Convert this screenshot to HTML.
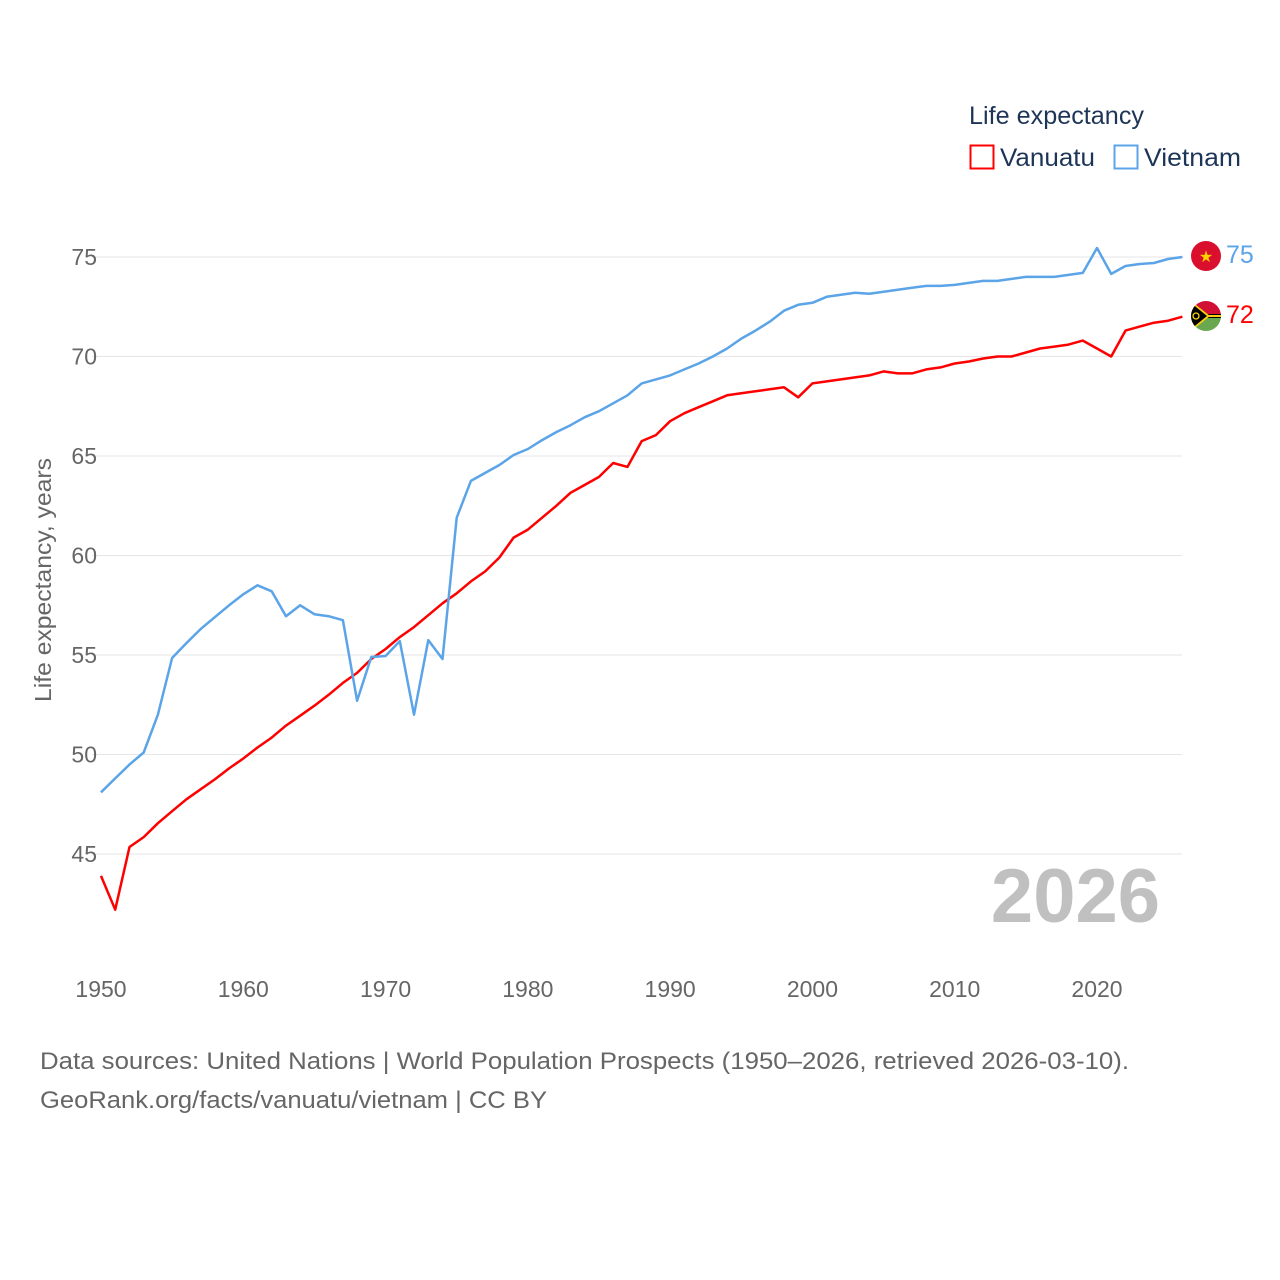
<!DOCTYPE html>
<html><head><meta charset="utf-8"><style>
html,body{margin:0;padding:0;background:#fff;}
svg{display:block;font-family:"Liberation Sans",sans-serif;}
</style></head><body>
<svg id="chart" width="1280" height="1280" viewBox="0 0 1280 1280">
<g id="grid"></g>
<g id="yticks"></g>
<g id="xticks"></g>
<text transform="translate(51,580) rotate(-90)" text-anchor="middle" font-size="23" fill="#666" textLength="244" lengthAdjust="spacingAndGlyphs">Life expectancy, years</text>
<text x="1160" y="922" text-anchor="end" font-size="76" font-weight="bold" fill="#c0c0c0">2026</text>
<g id="series"></g>
<g>
<text x="969" y="124" font-size="25" fill="#1d3557" textLength="175" lengthAdjust="spacingAndGlyphs">Life expectancy</text>
<g><rect x="970.5" y="145.5" width="23" height="23" fill="none" stroke="#ff0000" stroke-width="2"/><text x="1000" y="166" font-size="25" fill="#1d3557" textLength="95" lengthAdjust="spacingAndGlyphs">Vanuatu</text></g>
<g><rect x="1114.5" y="145.5" width="23" height="23" fill="none" stroke="#5ba4e8" stroke-width="2"/><text x="1144" y="166" font-size="25" fill="#1d3557" textLength="97" lengthAdjust="spacingAndGlyphs">Vietnam</text></g>
</g>
<g>
<circle cx="1206" cy="256" r="15" fill="#da0f2e"/>
<text x="1206" y="262" text-anchor="middle" font-size="16" fill="#ffd000">★</text>
</g>
<g>
<clipPath id="c2"><circle cx="1206" cy="316" r="15"/></clipPath>
<g clip-path="url(#c2)">
<rect x="1190" y="300" width="32" height="16" fill="#d21034"/>
<rect x="1190" y="316" width="32" height="16" fill="#6aa84f"/>
<rect x="1190" y="314" width="32" height="4" fill="#000"/>
<rect x="1190" y="315" width="32" height="2" fill="#fdce12"/>
<polygon points="1190,300 1210,316 1190,332" fill="#fdce12"/>
<polygon points="1190,302 1207,316 1190,330" fill="#000"/>
<circle cx="1196" cy="316" r="3" fill="none" stroke="#fdce12" stroke-width="1.3"/>
</g>
</g>
<text x="1226" y="263" font-size="25" fill="#5ba4e8">75</text>
<text x="1226" y="323" font-size="25" fill="#ff0000">72</text>
<text x="40" y="1069" font-size="24" fill="#666" textLength="1089" lengthAdjust="spacingAndGlyphs">Data sources: United Nations | World Population Prospects (1950–2026, retrieved 2026-03-10).</text>
<text x="40" y="1108" font-size="24" fill="#666" textLength="507" lengthAdjust="spacingAndGlyphs">GeoRank.org/facts/vanuatu/vietnam | CC BY</text>
</svg>
<script>
const startYear = 1950;
const vietnam = [48.1,48.8,49.5,50.1,52.0,54.85,55.6,56.3,56.9,57.5,58.05,58.5,58.2,56.95,57.5,57.05,56.95,56.75,52.7,54.9,54.95,55.7,52.0,55.75,54.8,61.9,63.75,64.15,64.55,65.05,65.35,65.8,66.2,66.55,66.95,67.25,67.65,68.05,68.65,68.85,69.05,69.35,69.65,70.0,70.4,70.9,71.3,71.75,72.3,72.6,72.7,73.0,73.1,73.2,73.15,73.25,73.35,73.45,73.55,73.55,73.6,73.7,73.8,73.8,73.9,74.0,74.0,74.0,74.1,74.2,75.45,74.15,74.55,74.65,74.7,74.9,75.0];
const vanuatu = [43.9,42.2,45.35,45.85,46.55,47.15,47.75,48.25,48.75,49.3,49.8,50.35,50.85,51.45,51.95,52.45,53.0,53.6,54.1,54.8,55.3,55.9,56.4,57.0,57.6,58.1,58.7,59.2,59.9,60.9,61.3,61.9,62.5,63.15,63.55,63.95,64.65,64.45,65.75,66.05,66.75,67.15,67.45,67.75,68.05,68.15,68.25,68.35,68.45,67.95,68.65,68.75,68.85,68.95,69.05,69.25,69.15,69.15,69.35,69.45,69.65,69.75,69.9,70.0,70.0,70.2,70.4,70.5,70.6,70.8,70.4,70.0,71.3,71.5,71.7,71.8,72.0];
const yTicks = [45,50,55,60,65,70,75];
const xTicks = [1950,1960,1970,1980,1990,2000,2010,2020];

const NS = "http://www.w3.org/2000/svg";
const xs = yr => 101 + (yr - 1950) * (1097 - 101) / 70;
const ys = v => 257 + (75 - v) * 19.9;
function mk(tag, attrs, parent){const e=document.createElementNS(NS,tag);for(const k in attrs)e.setAttribute(k,attrs[k]);parent.appendChild(e);return e;}
const grid=document.getElementById('grid'), yt=document.getElementById('yticks'), xt=document.getElementById('xticks'), ser=document.getElementById('series');
yTicks.forEach(v=>{
  const l=mk('line',{x1:92,x2:1182,y1:ys(v),y2:ys(v),stroke:'#e6e6e6','stroke-width':1},grid);
  
  
  const t=mk('text',{x:97,y:ys(v)+8,'text-anchor':'end','font-size':23,fill:'#666'},yt);
  t.textContent=v;
  
  
});
xTicks.forEach(yr=>{
  const t=mk('text',{x:xs(yr),y:997,'text-anchor':'middle','font-size':23,fill:'#666'},xt);
  t.textContent=yr;
  
  
});
function line(data,color,name){
  const d=data.map((v,i)=>(i?'L':'M')+xs(startYear+i).toFixed(1)+','+ys(v).toFixed(1)).join(' ');
  const p=mk('path',{d:d,fill:'none',stroke:color,'stroke-width':2.5,'stroke-linejoin':'round'},ser);
  
  
}
line(vanuatu,'#ff0000','vanuatu-line');
line(vietnam,'#5ba4e8','vietnam-line');
</script>
</body></html>
